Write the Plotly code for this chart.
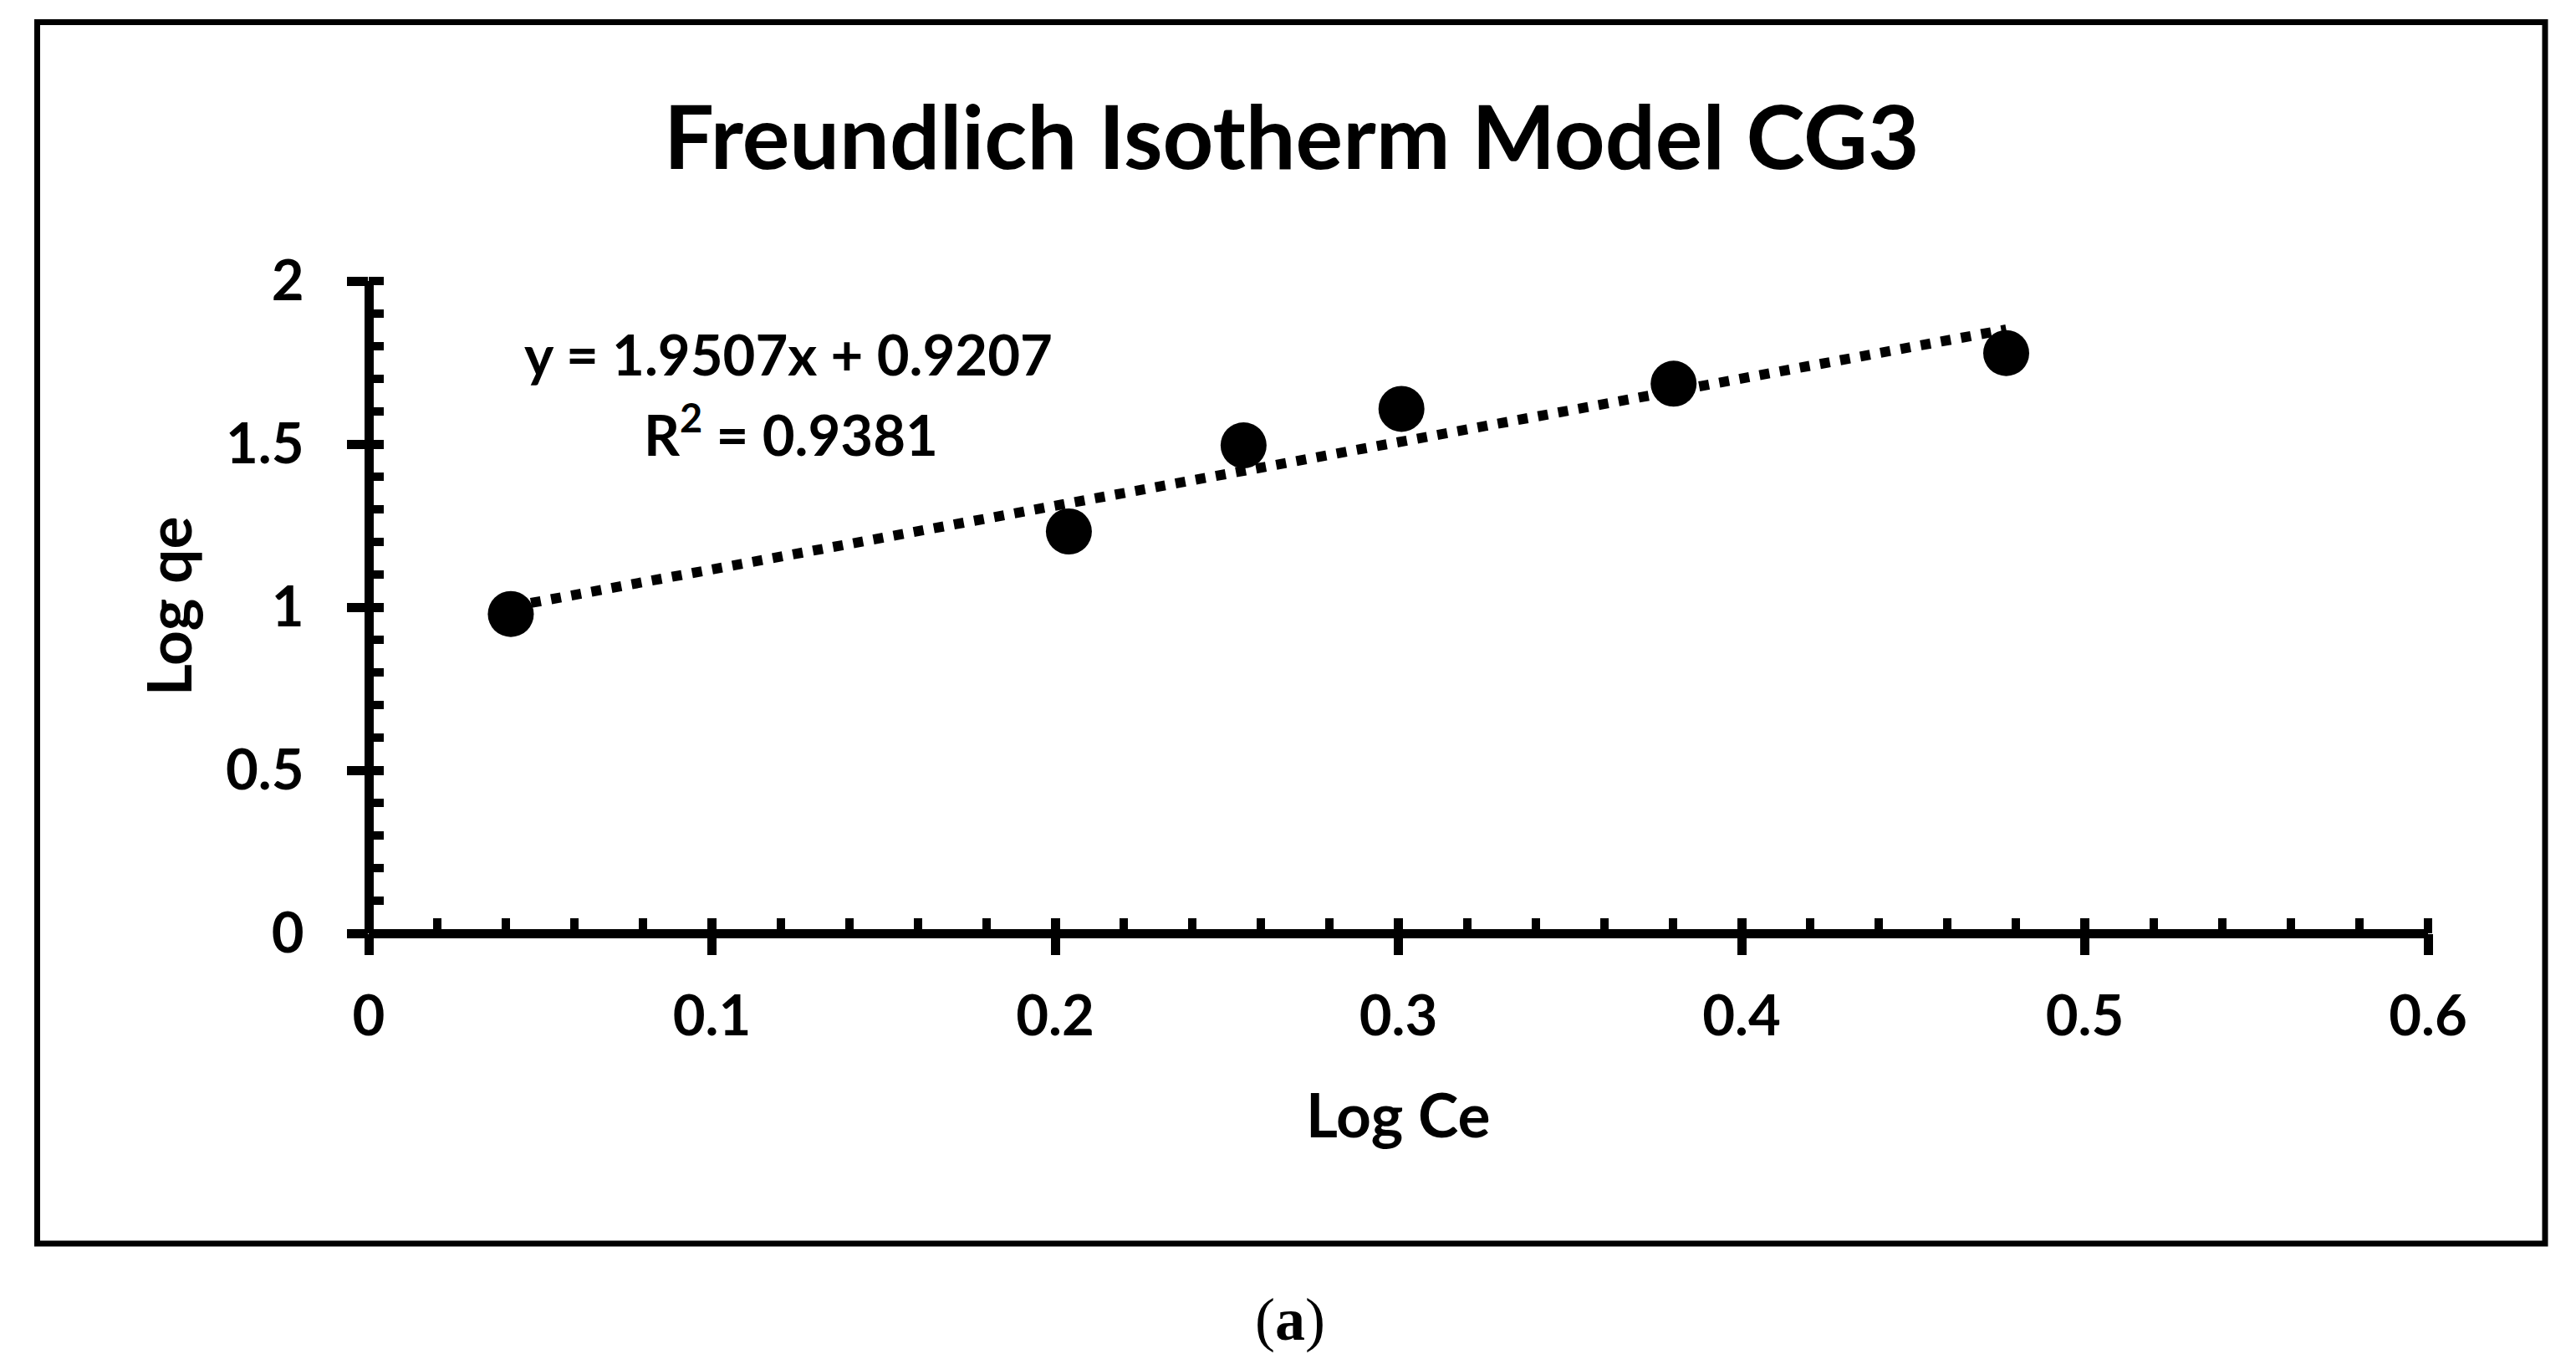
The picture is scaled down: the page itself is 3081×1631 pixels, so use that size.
import plotly.graph_objects as go

# ---- data ----
log_ce = [0.0414, 0.2040, 0.2549, 0.3009, 0.3802, 0.4771]
log_qe = [0.979, 1.232, 1.496, 1.608, 1.685, 1.779]
slope = 1.9507
intercept = 0.9207
r_squared = 0.9381
x_range = [0, 0.6]
y_range = [0, 2]
x_major = 0.1
x_minor = 0.02
y_major = 0.5
y_minor = 0.1
title_text = "Freundlich Isotherm Model CG3"
x_title = "Log Ce"
y_title = "Log qe"
panel_label = "(<b>a</b>)"

# ---- geometry (pixels) ----
W, H = 3081, 1631
L, R, T, B = 441, 177, 336, 515
PW = W - L - R
PH = H - T - B
BOTTOM = T + PH


def px(x):
    return (x - L) / PW


def py(y):
    return (BOTTOM - y) / PH


FONT = "Lato"
BLACK = "#000000"

x_fit = [min(log_ce), max(log_ce)]
y_fit = [slope * v + intercept for v in x_fit]

fig = go.Figure()

fig.add_trace(go.Scatter(
    x=x_fit, y=y_fit, mode="lines", xaxis="x2", yaxis="y2",
    line=dict(color=BLACK, width=12, dash="12px,12.5px"),
    showlegend=False, hoverinfo="skip",
))
fig.add_trace(go.Scatter(
    x=log_ce, y=log_qe, mode="markers",
    marker=dict(color=BLACK, size=55, line=dict(width=0)),
    showlegend=False,
))

tickfont = dict(family=FONT, size=67, color=BLACK, weight="bold")

common_main = dict(
    showgrid=False, showline=False, zeroline=True,
    zerolinecolor=BLACK, zerolinewidth=11,
    ticks="outside", ticklen=25, tickwidth=11, tickcolor=BLACK,
    tickfont=tickfont, fixedrange=True,
)

fig.update_layout(
    width=W, height=H, autosize=False,
    margin=dict(l=L, r=R, t=T, b=B, pad=0),
    paper_bgcolor="white", plot_bgcolor="white",
    showlegend=False,
    xaxis=dict(
        range=x_range, tick0=0, dtick=x_major,
        minor=dict(ticks="inside", ticklen=18, tickwidth=10, tickcolor=BLACK,
                   dtick=x_minor, tick0=0, showgrid=False),
        ticklabelstandoff=16,
        **common_main,
    ),
    yaxis=dict(
        range=y_range, tick0=0, dtick=y_major,
        minor=dict(ticks="inside", ticklen=18, tickwidth=10, tickcolor=BLACK,
                   dtick=y_minor, tick0=0, showgrid=False),
        ticklabelstandoff=38,
        **common_main,
    ),
    xaxis2=dict(
        range=x_range, overlaying="x", anchor="y2", side="bottom",
        tick0=0, dtick=x_major, ticks="inside", ticklen=18, tickwidth=11,
        tickcolor=BLACK, showticklabels=False, showgrid=False,
        zeroline=False, showline=False, fixedrange=True,
    ),
    yaxis2=dict(
        range=y_range, overlaying="y", anchor="x2", side="left",
        tick0=0, dtick=y_major, ticks="inside", ticklen=18, tickwidth=11,
        tickcolor=BLACK, showticklabels=False, showgrid=False,
        zeroline=False, showline=False, fixedrange=True,
    ),
)

ann = [
    dict(text=title_text, x=px(1545), y=py(161),
         font=dict(family=FONT, size=106, color=BLACK, weight="bold")),
    dict(text=x_title, x=px(1672), y=py(1332),
         font=dict(family=FONT, size=73, color=BLACK, weight="bold")),
    dict(text=y_title, x=px(201), y=py(725), textangle=-90,
         font=dict(family=FONT, size=73, color=BLACK, weight="bold")),
    dict(text=f"y = {slope}x + {intercept}", x=px(943), y=py(423),
         font=dict(family=FONT, size=67, color=BLACK, weight="bold")),
    dict(text=f"R<sup>2</sup> = {r_squared}", x=px(946), y=py(515),
         font=dict(family=FONT, size=67, color=BLACK, weight="bold")),
    dict(text=panel_label, x=px(1543), y=py(1578),
         font=dict(family="Liberation Serif", size=72, color=BLACK)),
]
for a in ann:
    fig.add_annotation(xref="paper", yref="paper", showarrow=False,
                       xanchor="center", yanchor="middle", **a)

fig.add_shape(type="rect", xref="paper", yref="paper",
              x0=px(44.5), x1=px(3044), y0=py(26.5), y1=py(1487),
              line=dict(color=BLACK, width=7), fillcolor="rgba(0,0,0,0)",
              layer="above")

fig.write_html("out.html",
               config={"displayModeBar": False},
               post_script="document.body.style.margin='0';document.body.style.overflow='hidden';")
